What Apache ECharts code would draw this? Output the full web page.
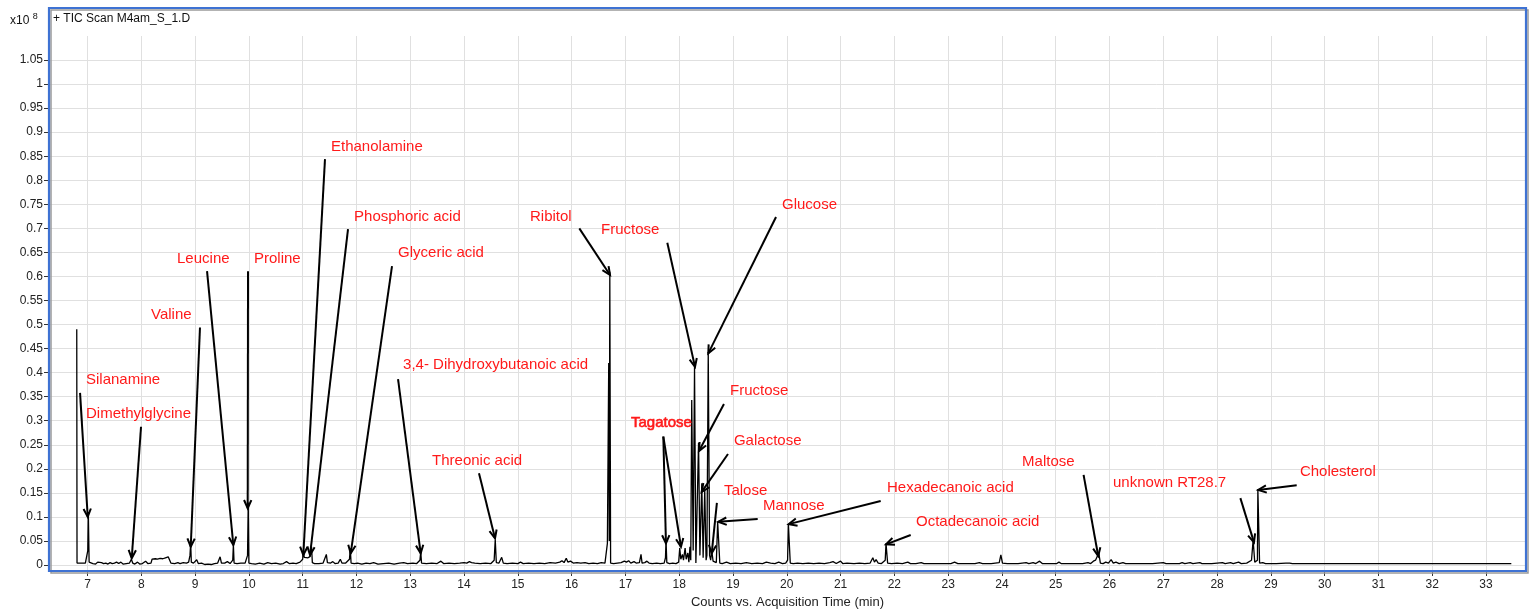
<!DOCTYPE html>
<html>
<head>
<meta charset="utf-8">
<script src="https://cdn.jsdelivr.net/npm/echarts@6/dist/echarts.min.js"></script>
<style>
html,body{margin:0;padding:0;background:#fff;}
#chart{width:1532px;height:610px;}
</style>
</head>
<body>
<div id="chart"></div>
<script>
// ---- Data (retention time in min, counts in units of 1e8) ----
const xTicks = [7,8,9,10,11,12,13,14,15,16,17,18,19,20,21,22,23,24,25,26,27,28,29,30,31,32,33];
const yTicks = [0,0.05,0.1,0.15,0.2,0.25,0.3,0.35,0.4,0.45,0.5,0.55,0.6,0.65,0.7,0.75,0.8,0.85,0.9,0.95,1,1.05];

const ticTrace = [
[6.80,0.49],[6.805,0.004],[6.85,0.004],[6.9,0.004],[6.96,0.004],[6.99,0.005],[7.005,0.03],[7.015,0.11],[7.03,0.006],[7.05,0.002],
[7.1,0.003],[7.15,0.002],[7.19,0.006],[7.22,0.003],[7.26,0.005],[7.3,0.003],[7.34,0.004],[7.38,0.002],[7.42,0.005],[7.46,0.003],
[7.5,0.004],[7.54,0.006],[7.58,0.003],[7.62,0.006],[7.66,0.002],[7.72,0.003],[7.78,0.004],[7.815,0.012],[7.84,0.004],[7.88,0.002],
[7.93,0.006],[7.97,0.002],[8.02,0.003],[8.08,0.008],[8.12,0.003],[8.18,0.004],[8.2,0.012],[8.26,0.013],[8.3,0.012],[8.35,0.014],
[8.4,0.013],[8.45,0.015],[8.5,0.017],[8.53,0.014],[8.55,0.004],[8.62,0.003],[8.68,0.005],[8.72,0.003],[8.78,0.005],[8.84,0.004],
[8.88,0.006],[8.905,0.02],[8.918,0.046],[8.93,0.006],[8.97,0.004],[9.03,0.011],[9.06,0.003],[9.12,0.004],[9.18,0.001],[9.24,0.002],
[9.3,0.001],[9.36,0.003],[9.42,0.004],[9.465,0.017],[9.49,0.004],[9.55,0.004],[9.6,0.007],[9.65,0.003],[9.7,0.01],[9.712,0.042],
[9.725,0.004],[9.78,0.003],[9.85,0.004],[9.93,0.004],[9.975,0.02],[9.988,0.13],[10.0,0.004],[10.05,0.003],[10.12,0.002],[10.2,0.004],
[10.28,0.002],[10.35,0.005],[10.42,0.003],[10.5,0.004],[10.58,0.002],[10.64,0.003],[10.7,0.007],[10.75,0.003],[10.82,0.004],[10.88,0.003],
[10.95,0.006],[11.0,0.012],[11.01,0.03],[11.03,0.016],[11.06,0.014],[11.1,0.015],[11.14,0.018],[11.165,0.038],[11.18,0.005],[11.22,0.003],
[11.3,0.003],[11.38,0.004],[11.44,0.022],[11.46,0.005],[11.52,0.004],[11.56,0.007],[11.6,0.003],[11.66,0.004],[11.7,0.012],[11.73,0.004],
[11.8,0.004],[11.87,0.012],[11.885,0.035],[11.9,0.004],[11.96,0.003],[12.02,0.004],[12.1,0.002],[12.18,0.004],[12.25,0.003],[12.32,0.005],
[12.4,0.002],[12.5,0.003],[12.6,0.004],[12.7,0.002],[12.8,0.004],[12.88,0.005],[12.95,0.003],[13.05,0.004],[13.12,0.003],[13.18,0.01],
[13.195,0.028],[13.21,0.004],[13.3,0.003],[13.4,0.004],[13.5,0.003],[13.57,0.008],[13.62,0.003],[13.72,0.004],[13.82,0.003],[13.92,0.004],
[14.0,0.005],[14.05,0.004],[14.1,0.007],[14.14,0.005],[14.2,0.004],[14.3,0.003],[14.4,0.004],[14.5,0.003],[14.56,0.01],[14.58,0.053],
[14.6,0.005],[14.65,0.004],[14.7,0.016],[14.73,0.004],[14.8,0.003],[14.9,0.004],[15.0,0.003],[15.05,0.006],[15.1,0.003],[15.2,0.004],
[15.3,0.003],[15.4,0.004],[15.5,0.003],[15.6,0.005],[15.7,0.004],[15.78,0.006],[15.82,0.009],[15.86,0.005],[15.9,0.014],[15.93,0.006],
[15.98,0.008],[16.03,0.004],[16.1,0.005],[16.13,0.009],[16.17,0.004],[16.25,0.005],[16.32,0.003],[16.4,0.004],[16.48,0.003],[16.55,0.005],
[16.62,0.004],[16.655,0.006],[16.665,0.045],[16.68,0.045],[16.69,0.42],[16.70,0.05],[16.71,0.61],[16.725,0.004],[16.78,0.003],[16.85,0.004],
[16.92,0.005],[16.98,0.008],[17.02,0.006],[17.06,0.009],[17.1,0.004],[17.16,0.007],[17.2,0.004],[17.26,0.005],[17.29,0.022],[17.31,0.004],
[17.36,0.005],[17.4,0.008],[17.44,0.004],[17.5,0.003],[17.58,0.004],[17.65,0.003],[17.72,0.004],[17.745,0.015],[17.755,0.052],[17.77,0.005],
[17.82,0.003],[17.88,0.004],[17.94,0.003],[17.99,0.006],[18.01,0.035],[18.03,0.012],[18.06,0.022],[18.08,0.01],[18.11,0.035],[18.13,0.012],
[18.16,0.025],[18.18,0.006],[18.2,0.038],[18.215,0.01],[18.233,0.343],[18.26,0.03],[18.285,0.412],[18.31,0.004],[18.325,0.004],[18.36,0.254],
[18.385,0.02],[18.42,0.17],[18.445,0.015],[18.475,0.156],[18.5,0.01],[18.515,0.02],[18.54,0.443],[18.565,0.02],[18.585,0.01],[18.605,0.03],
[18.63,0.008],[18.665,0.012],[18.69,0.005],[18.715,0.09],[18.735,0.09],[18.755,0.004],[18.8,0.003],[18.88,0.006],[18.95,0.003],[19.05,0.004],
[19.15,0.003],[19.25,0.005],[19.35,0.003],[19.45,0.004],[19.55,0.003],[19.62,0.006],[19.7,0.004],[19.78,0.003],[19.85,0.006],[19.92,0.003],
[19.98,0.004],[20.015,0.01],[20.03,0.085],[20.05,0.085],[20.065,0.004],[20.12,0.003],[20.2,0.004],[20.3,0.003],[20.4,0.004],[20.5,0.003],
[20.6,0.004],[20.7,0.003],[20.8,0.005],[20.86,0.007],[20.92,0.003],[21.0,0.008],[21.04,0.003],[21.12,0.004],[21.25,0.003],[21.35,0.004],
[21.45,0.003],[21.55,0.004],[21.6,0.015],[21.63,0.006],[21.66,0.011],[21.7,0.004],[21.76,0.003],[21.83,0.01],[21.845,0.045],[21.86,0.045],
[21.875,0.004],[21.95,0.003],[22.05,0.004],[22.15,0.003],[22.25,0.006],[22.3,0.003],[22.4,0.003],[22.5,0.005],[22.55,0.003],[22.7,0.003],
[22.9,0.003],[23.05,0.003],[23.12,0.006],[23.18,0.003],[23.35,0.003],[23.5,0.003],[23.58,0.005],[23.64,0.003],[23.8,0.003],[23.95,0.005],
[23.98,0.021],[24.01,0.004],[24.1,0.003],[24.3,0.003],[24.45,0.005],[24.5,0.003],[24.58,0.005],[24.63,0.003],[24.7,0.008],[24.75,0.003],
[24.9,0.003],[25.02,0.003],[25.06,0.006],[25.1,0.003],[25.3,0.003],[25.5,0.003],[25.6,0.005],[25.65,0.003],[25.7,0.008],[25.74,0.01],
[25.77,0.006],[25.8,0.025],[25.83,0.004],[25.88,0.003],[25.93,0.006],[25.98,0.004],[26.03,0.011],[26.07,0.004],[26.12,0.006],[26.18,0.003],
[26.25,0.005],[26.3,0.003],[26.5,0.003],[26.8,0.003],[27.0,0.005],[27.05,0.003],[27.3,0.003],[27.35,0.005],[27.4,0.003],[27.5,0.005],
[27.55,0.003],[27.68,0.005],[27.72,0.003],[27.9,0.003],[28.1,0.005],[28.15,0.003],[28.25,0.005],[28.3,0.003],[28.4,0.006],[28.45,0.003],
[28.55,0.004],[28.64,0.01],[28.67,0.052],[28.7,0.006],[28.73,0.005],[28.75,0.01],[28.758,0.158],[28.778,0.158],[28.79,0.004],[28.85,0.005],
[28.9,0.003],[29.1,0.003],[29.28,0.004],[29.31,0.008],[29.35,0.004],[29.4,0.003],[30,0.003],[31,0.003],[32,0.003],[33.47,0.003]
];

// ---- Annotations (data coordinates) ----
const labelTexts = ['Silanamine','Dimethylglycine','Valine','Leucine','Proline','Ethanolamine','Phosphoric acid','Glyceric acid',
  '3,4- Dihydroxybutanoic acid','Threonic acid','Ribitol','Fructose','Glucose','Fructose','Galactose','Tagatose','Talose','Mannose',
  'Hexadecanoic acid','Octadecanoic acid','Maltose','unknown RT28.7','Cholesterol'];
const labelAnchors = [[6.972,0.385],[6.972,0.314],[8.181,0.520],[8.664,0.636],[10.095,0.636],[11.527,0.869],[11.955,0.7235],[12.773,0.6486],
  [12.866,0.4158],[13.405,0.2162],[15.226,0.7235],[16.546,0.6965],[19.911,0.748],[18.944,0.3617],[19.018,0.2578],[17.104,0.295],[18.832,0.154],
  [19.557,0.1227],[21.863,0.160],[22.403,0.0894],[24.374,0.214],[26.065,0.170],[29.54,0.193]];
const boldLabelIndex = 15; // 'Tagatose' is printed heavier in the original
const arrowSegments = [
  [6.861,0.358,7.004,0.100],[7.995,0.2875,7.822,0.014],[9.091,0.494,8.919,0.038],[9.222,0.611,9.711,0.0416],[9.984,0.611,9.978,0.118],
  [11.415,0.844,11.012,0.0208],[11.843,0.6985,11.137,0.0208],[12.661,0.6216,11.893,0.0243],[12.773,0.3867,13.194,0.0243],[14.278,0.1906,14.576,0.0555],
  [16.143,0.700,16.714,0.603],[17.779,0.670,18.294,0.412],[19.8,0.7235,18.541,0.440],[18.832,0.3347,18.368,0.237],[18.907,0.2308,18.418,0.152],
  [17.705,0.267,17.754,0.045],[17.705,0.267,18.033,0.038],[18.701,0.129,18.604,0.0243],[19.459,0.0956,18.727,0.090],[21.746,0.133,20.036,0.085],
  [22.304,0.0624,21.845,0.043],[25.518,0.1875,25.79,0.0187],[28.433,0.139,28.686,0.047],[29.48,0.166,28.764,0.156]
];

const FONT = '"Liberation Sans", Arial, sans-serif';
const chart = echarts.init(document.getElementById('chart'), null, {renderer:'canvas'});

const option = {
  animation: false,
  backgroundColor: '#fff',
  grid: {left: 49, right: 6, top: 36, bottom: 40, containLabel: false, outerBoundsMode: 'none'},
  xAxis: {
    type: 'value', min: 6.284, max: 33.743,
    name: 'Counts vs. Acquisition Time (min)', nameLocation: 'middle', nameGap: 26,
    nameTextStyle: {fontFamily: FONT, fontSize: 13, color: '#222'},
    axisLine: {show: false, onZero: false},
    axisTick: {show: true, length: 6, customValues: xTicks, lineStyle: {color: '#333'}},
    axisLabel: {customValues: xTicks, fontFamily: FONT, fontSize: 12, color: '#222', margin: 9},
    splitLine: {show: true, lineStyle: {color: '#e0e0e0', width: 1}}
  },
  yAxis: {
    type: 'value', min: -0.0104, max: 1.1,
    axisLine: {show: true, lineStyle: {color: '#555', width: 1}},
    axisTick: {show: true, length: 5, customValues: yTicks, lineStyle: {color: '#333'}},
    axisLabel: {customValues: yTicks, fontFamily: FONT, fontSize: 12, color: '#222', margin: 6,
      formatter: v => String(+(+v).toFixed(2))},
    splitLine: {show: true, lineStyle: {color: '#e0e0e0', width: 1}}
  },
  series: [
    {
      type: 'line', name: 'TIC', data: ticTrace, showSymbol: false, symbol: 'none',
      lineStyle: {color: '#000', width: 1.3}, sampling: null, silent: true, z: 3
    },
    {
      type: 'custom', name: 'arrows', data: arrowSegments, silent: true, z: 4,
      encode: {x: [0, 2], y: [1, 3]},
      renderItem: function (params, api) {
        const p1 = api.coord([api.value(0), api.value(1)]);
        const p2 = api.coord([api.value(2), api.value(3)]);
        const ang = Math.atan2(p2[1] - p1[1], p2[0] - p1[0]);
        const L = 9, W = 0.42;
        const a1 = [p2[0] - L * Math.cos(ang - W), p2[1] - L * Math.sin(ang - W)];
        const a2 = [p2[0] - L * Math.cos(ang + W), p2[1] - L * Math.sin(ang + W)];
        return {type: 'group', children: [
          {type: 'line', shape: {x1: p1[0], y1: p1[1], x2: p2[0], y2: p2[1]}, style: {stroke: '#000', lineWidth: 2}},
          {type: 'polyline', shape: {points: [a1, p2, a2]}, style: {stroke: '#000', lineWidth: 2, fill: null}}
        ]};
      }
    },
    {
      type: 'custom', name: 'labels', data: labelAnchors, silent: true, z: 5,
      encode: {x: 0, y: 1},
      renderItem: function (params, api) {
        const p = api.coord([api.value(0), api.value(1)]);
        const txt = labelTexts[params.dataIndex];
        const bold = params.dataIndex === boldLabelIndex;
        return {type: 'text', x: p[0], y: p[1], style: {
          text: txt, fill: '#ff1a1a', font: '15px ' + FONT, align: 'left', verticalAlign: 'middle',
          stroke: bold ? '#ff1a1a' : null, lineWidth: bold ? 0.6 : 0
        }};
      }
    }
  ],
  graphic: [
    {type: 'rect', z: 99, silent: true, shape: {x: 51, y: 10, width: 1477, height: 563},
      style: {fill: null, stroke: '#9a9a9a', lineWidth: 1.5}},
    {type: 'rect', z: 100, silent: true, shape: {x: 49, y: 8, width: 1477, height: 563},
      style: {fill: null, stroke: '#3e72d3', lineWidth: 2.2}},
    {type: 'text', z: 101, left: 53, top: 13, style: {text: '+ TIC Scan M4am_S_1.D', font: '12px ' + FONT, fill: '#111'}},
    {type: 'text', z: 101, left: 10, top: 12, style: {
      text: '{a|x10} {b|8}', fill: '#111',
      rich: {a: {fontFamily: FONT, fontSize: 12, verticalAlign: 'bottom', padding: [3, 0, 0, 0]},
             b: {fontFamily: FONT, fontSize: 9, verticalAlign: 'top'}}
    }}
  ]
};
chart.setOption(option);
</script>
</body>
</html>
